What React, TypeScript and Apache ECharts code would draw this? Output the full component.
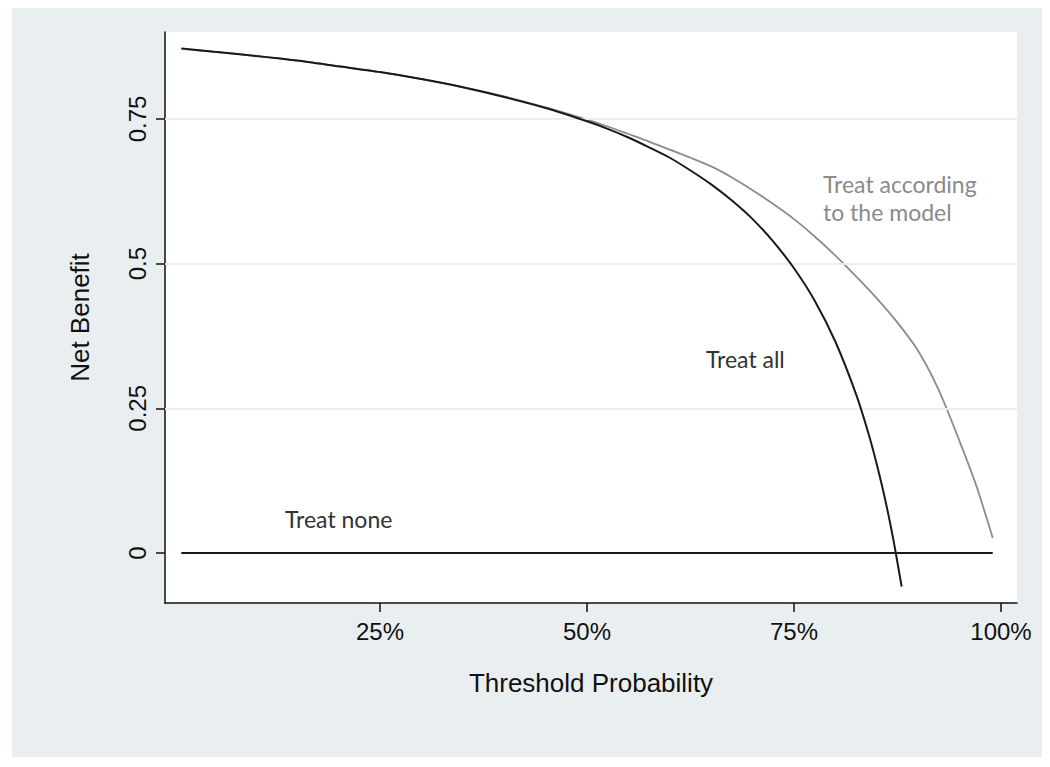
import React, { useEffect, useRef } from "react";
import * as echarts from "echarts";

// Threshold probabilities (x) and net benefit values (y)
const treatAllX = [0.01, 0.05, 0.1, 0.15, 0.2, 0.25, 0.3, 0.35, 0.4, 0.45, 0.5, 0.525, 0.55, 0.575, 0.6, 0.625, 0.65, 0.675, 0.7, 0.725, 0.75, 0.775, 0.8, 0.825, 0.84, 0.85, 0.86, 0.87, 0.88];
const treatAllNB = [0.872, 0.866, 0.859, 0.851, 0.841, 0.831, 0.819, 0.805, 0.788, 0.769, 0.746, 0.733, 0.718, 0.701, 0.683, 0.661, 0.637, 0.609, 0.577, 0.538, 0.492, 0.436, 0.365, 0.274, 0.206, 0.153, 0.093, 0.023, -0.058];

const modelX = [0.01, 0.05, 0.1, 0.15, 0.2, 0.25, 0.3, 0.35, 0.4, 0.45, 0.5, 0.525, 0.55, 0.575, 0.6, 0.625, 0.65, 0.675, 0.7, 0.725, 0.75, 0.775, 0.8, 0.825, 0.85, 0.875, 0.9, 0.925, 0.95, 0.97, 0.99];
const modelNB = [0.871, 0.866, 0.859, 0.851, 0.841, 0.831, 0.819, 0.805, 0.789, 0.77, 0.749, 0.737, 0.724, 0.711, 0.697, 0.683, 0.668, 0.649, 0.627, 0.603, 0.577, 0.547, 0.514, 0.478, 0.44, 0.398, 0.349, 0.281, 0.193, 0.117, 0.026];

const treatNoneX = [0.01, 0.99];
const treatNoneNB = [0, 0];

const xTicks = [0.25, 0.5, 0.75, 1];
const yTicks = [0, 0.25, 0.5, 0.75];
const gridLevels = [0.25, 0.5, 0.75];

const labels = {
  model: ["Treat according", "to the model"],
  all: "Treat all",
  none: "Treat none",
};

const zip = (xs: number[], ys: number[]) => xs.map((x, i) => [x, ys[i]]);

export default function App() {
  const ref = useRef<HTMLDivElement>(null);
  useEffect(() => {
    if (!ref.current) return;
    const chart = echarts.init(ref.current, undefined, { renderer: "svg" });
    const axisFont = "'Liberation Sans', Arial, sans-serif";
    const annFont = "Lato, 'Open Sans', sans-serif";
    chart.setOption({
      animation: false,
      backgroundColor: "#ffffff",
      graphic: [
        {
          type: "rect",
          z: -10,
          silent: true,
          shape: { x: 12, y: 8, width: 1030, height: 749 },
          style: { fill: "#e9eef1" },
        },
        {
          type: "text",
          left: 823,
          top: 170,
          z: 10,
          style: {
            text: labels.model.join("\n"),
            fill: "#8a8a8a",
            font: `23px ${annFont}`,
            lineHeight: 28,
          },
        },
        {
          type: "text",
          left: 706,
          top: 347,
          z: 10,
          style: { text: labels.all, fill: "#333333", font: `23px ${annFont}` },
        },
        {
          type: "text",
          left: 285,
          top: 507,
          z: 10,
          style: { text: labels.none, fill: "#333333", font: `23px ${annFont}` },
        },
      ],
      grid: {
        left: 165,
        top: 32,
        width: 852,
        height: 571,
        show: true,
        backgroundColor: "#ffffff",
        borderWidth: 0,
      },
      xAxis: {
        type: "value",
        min: -0.00966,
        max: 1.0193,
        name: "Threshold Probability",
        nameLocation: "middle",
        nameGap: 67,
        nameTextStyle: { fontFamily: axisFont, fontSize: 26, color: "#111" },
        axisLine: { show: true, onZero: false, lineStyle: { color: "#111", width: 1.5 } },
        axisTick: { show: true, customValues: xTicks, length: 9, lineStyle: { color: "#111", width: 1.5 } },
        axisLabel: {
          customValues: xTicks,
          fontFamily: axisFont,
          fontSize: 24,
          color: "#111",
          margin: 16,
          formatter: (v: number) => `${Math.round(v * 100)}%`,
        },
        splitLine: { show: false },
      },
      yAxis: {
        type: "value",
        min: -0.0864,
        max: 0.9003,
        name: "Net Benefit",
        nameLocation: "middle",
        nameRotate: 90,
        nameGap: 72,
        nameTextStyle: { fontFamily: axisFont, fontSize: 26, color: "#111" },
        axisLine: { show: true, onZero: false, lineStyle: { color: "#111", width: 1.5 } },
        axisTick: { show: true, customValues: yTicks, length: 9, lineStyle: { color: "#111", width: 1.5 } },
        axisLabel: {
          customValues: yTicks,
          rotate: 90,
          fontFamily: axisFont,
          fontSize: 24,
          color: "#111",
          margin: 16,
          formatter: (v: number) => (v === 0 ? "0" : String(v)),
        },
        splitLine: { show: false },
      },
      series: [
        {
          type: "line",
          name: "grid",
          data: [],
          silent: true,
          markLine: {
            silent: true,
            symbol: "none",
            label: { show: false },
            lineStyle: { color: "#eeeeee", width: 2, type: "solid" },
            data: gridLevels.map((v) => ({ yAxis: v })),
          },
          z: 1,
        },
        {
          type: "line",
          name: "Treat none",
          data: zip(treatNoneX, treatNoneNB),
          showSymbol: false,
          lineStyle: { color: "#1a1a1a", width: 2 },
          z: 3,
        },
        {
          type: "line",
          name: "Treat according to the model",
          data: zip(modelX, modelNB),
          showSymbol: false,
          smooth: 0.25,
          lineStyle: { color: "#8c8c8c", width: 1.8 },
          z: 4,
        },
        {
          type: "line",
          name: "Treat all",
          data: zip(treatAllX, treatAllNB),
          showSymbol: false,
          smooth: 0.25,
          lineStyle: { color: "#1a1a1a", width: 2 },
          z: 5,
        },
      ],
    });
    return () => chart.dispose();
  }, []);
  return (
    <div
      ref={ref}
      style={{ position: "absolute", left: 0, top: 0, width: 1050, height: 767 }}
    />
  );
}
